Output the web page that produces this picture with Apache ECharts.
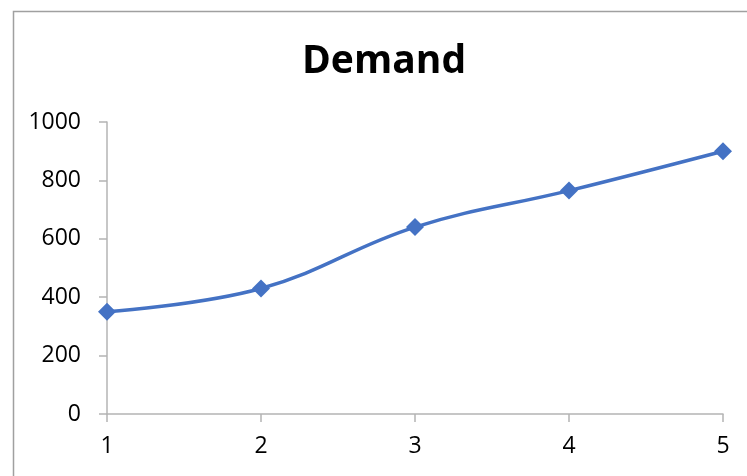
<!DOCTYPE html>
<html>
<head>
<meta charset="utf-8">
<script src="https://cdn.jsdelivr.net/npm/echarts@6/dist/echarts.min.js"></script>
<style>
  html, body { margin: 0; padding: 0; background: #ffffff; }
  #chart { width: 747px; height: 476px; }
</style>
</head>
<body>
<div id="chart"></div>
<script>
// Demand per period
const periods = ['1', '2', '3', '4', '5'];
const demand = [350, 430, 640, 765, 900];
const yTicks = { min: 0, max: 1000, step: 200 };

const chart = echarts.init(document.getElementById('chart'), null, { renderer: 'canvas' });
const axisGrey = '#b4b4b4';
const font = '"Open Sans", "Liberation Sans", sans-serif';

chart.setOption({
  animation: false,
  backgroundColor: '#ffffff',
  graphic: [{
    type: 'rect',
    left: 11, top: 9,
    shape: { width: 900, height: 600 },
    style: { fill: 'none', stroke: '#a0a0a0', lineWidth: 1.5 },
    silent: true
  }],
  title: {
    text: 'Demand',
    left: 302, top: 42, padding: 0,
    textStyle: { fontFamily: font, fontWeight: 'bold', fontSize: 39, color: '#000000' }
  },
  grid: { left: 107, right: 24, top: 122, bottom: 62, containLabel: false },
  xAxis: {
    type: 'category',
    data: periods,
    boundaryGap: false,
    axisLine: { lineStyle: { color: axisGrey, width: 1.5 } },
    axisTick: { show: true, length: 8, alignWithLabel: true, lineStyle: { color: axisGrey, width: 1.5 } },
    axisLabel: { margin: 21, fontFamily: font, fontSize: 23, color: '#000000' },
    splitLine: { show: false }
  },
  yAxis: {
    type: 'value',
    min: yTicks.min, max: yTicks.max, interval: yTicks.step,
    axisLine: { show: true, lineStyle: { color: axisGrey, width: 1.5 } },
    axisTick: { show: true, length: 8, lineStyle: { color: axisGrey, width: 1.5 } },
    axisLabel: { margin: 26, fontFamily: font, fontSize: 23, color: '#000000', formatter: v => String(v) },
    splitLine: { show: false }
  },
  series: [{
    type: 'line',
    data: demand,
    smooth: 0.4,
    symbol: 'diamond',
    symbolSize: 18,
    showAllSymbol: true,
    lineStyle: { color: '#4472C4', width: 3.5 },
    itemStyle: { color: '#4472C4' }
  }]
});
</script>
</body>
</html>
